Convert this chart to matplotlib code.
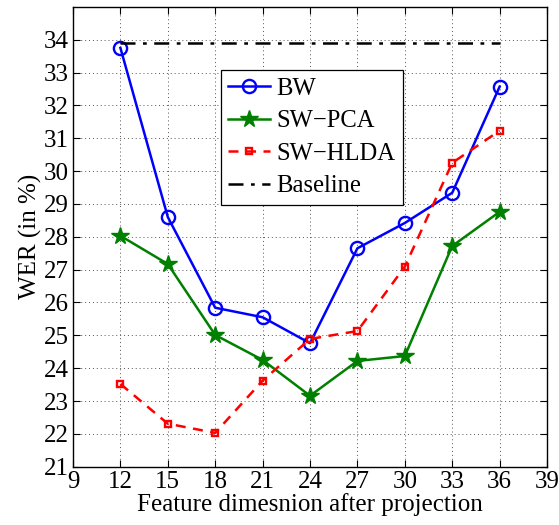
import matplotlib
matplotlib.use("Agg")
import matplotlib.pyplot as plt

x = [12, 15, 18, 21, 24, 27, 30, 33, 36]
bw = [33.75, 28.6, 25.84, 25.55, 24.76, 27.65, 28.42, 29.34, 32.57]
sw_pca = [28.03, 27.17, 25.01, 24.25, 23.16, 24.22, 24.37, 27.72, 28.76]
sw_hlda = [23.52, 22.31, 22.03, 23.62, 24.89, 25.13, 27.09, 30.25, 31.23]
baseline_x = [12, 36]
baseline_y = [33.89, 33.89]
xticks = [9, 12, 15, 18, 21, 24, 27, 30, 33, 36, 39]
yticks = list(range(21, 35))

plt.rcParams['font.family'] = ['Liberation Serif', 'DejaVu Serif']

fig = plt.figure(figsize=(5.59, 5.25), dpi=100)
ax = fig.add_axes([0.1306, 0.111, 0.848, 0.876])

ax.plot(x, bw, '-', color='#0000ff', lw=1.8, marker='o', ms=9.5, mfc='none', mec='#0000ff', mew=1.7, label='BW')
ax.plot(x, sw_pca, '-', color='#008000', lw=1.8, marker='*', ms=13, mfc='#008000', mec='#008000', label='SW\u2212PCA')
ax.plot(x, sw_hlda, '--', color='#ff0000', lw=1.8, marker='s', ms=4.5, mfc='none', mec='#ff0000', mew=1.7, dashes=(4, 3), label='SW\u2212HLDA')
ax.plot(baseline_x, baseline_y, '-.', color='black', lw=1.8, dashes=(6, 3, 1.5, 3), label='Baseline')

ax.set_xlim(9, 39)
ax.set_ylim(21, 35)
ax.set_xticks(xticks)
ax.set_yticks(yticks)
ax.tick_params(direction='in', top=True, right=True, labelsize=18, length=5, width=0.8)
ax.tick_params(axis='x', pad=3)
ax.tick_params(axis='y', pad=3)
ax.grid(True, linestyle=(0, (1, 3)), color='#555555', lw=0.7)
for s in ax.spines.values():
    s.set_linewidth(1.0)
ax.set_xlabel('Feature dimesnion after projection', fontsize=18, labelpad=0)
ax.set_ylabel('WER (in %)', fontsize=18, labelpad=1)

leg = ax.legend(loc='upper left', bbox_to_anchor=(0.312, 0.862), fontsize=17.7, handlelength=1.7,
                frameon=True, fancybox=False, edgecolor='black', framealpha=1,
                borderpad=0.3, labelspacing=0.42, handletextpad=0.25, borderaxespad=0)
leg.get_frame().set_linewidth(0.9)

fig.savefig('out.png', dpi=100)
